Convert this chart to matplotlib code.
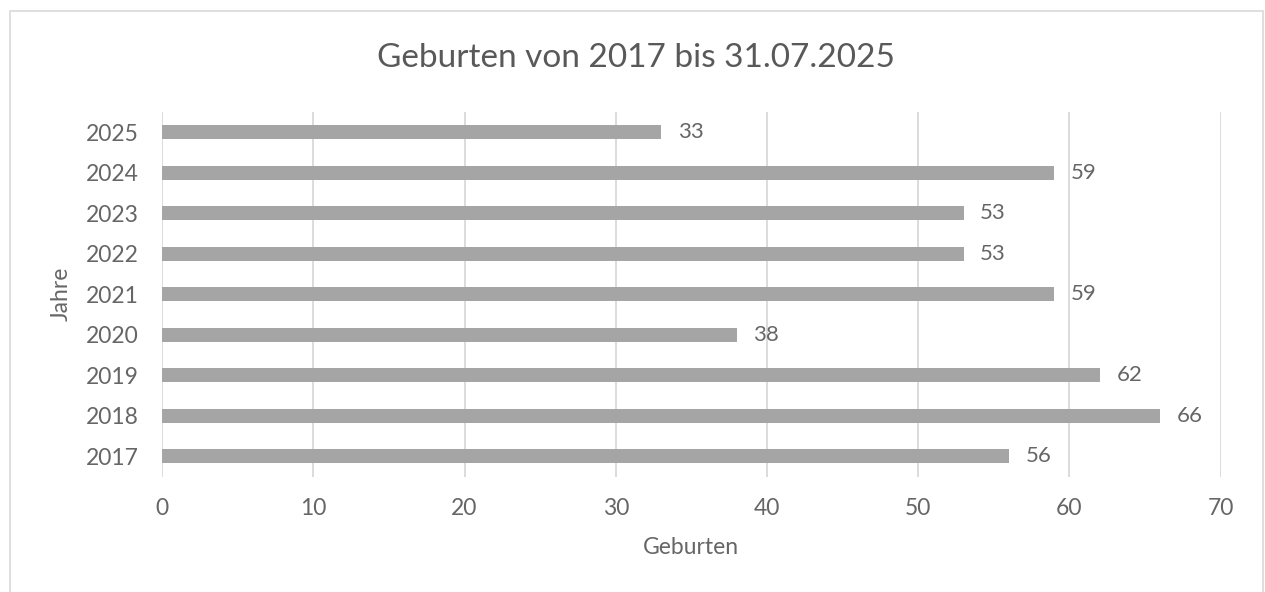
import matplotlib.pyplot as plt
from matplotlib.patches import Rectangle

# ================= Style =================
plt.rcParams['font.family'] = ['Lato', 'DejaVu Sans']
text_col = '#595959'
light_col = '#666666'

# ================= Data =================
jahre = ['2017', '2018', '2019', '2020', '2021', '2022', '2023', '2024', '2025']
geburten = [56, 66, 62, 38, 59, 53, 53, 59, 33]
x_ticks = [0, 10, 20, 30, 40, 50, 60, 70]

fig = plt.figure(figsize=(12.65, 5.92), dpi=100)
ax = fig.add_axes([0.1281, 0.1948, 0.965 - 0.1281, 0.8108 - 0.1948])

pos = range(len(jahre))
ax.barh(pos, geburten, height=0.345, color='#a5a5a5', zorder=3)

# value labels
for p, v in zip(pos, geburten):
    ax.text(v + 1.1, p, str(v), va='center', ha='left', fontsize=16,
            color=light_col)

ax.set_xlim(0, 70)
ax.set_ylim(-0.5, len(jahre) - 0.5)
ax.set_xticks(x_ticks)
ax.set_yticks(list(pos))
ax.set_yticklabels(jahre)
ax.tick_params(axis='both', length=0, labelsize=16.5, labelcolor=light_col)
ax.tick_params(axis='y', pad=17)
ax.tick_params(axis='x', pad=15)

ax.grid(axis='x', color='#d9d9d9', linewidth=1.3, zorder=0)
for s in ax.spines.values():
    s.set_visible(False)

# titles / labels
fig.text(635.5 / 1265, 1 - 58 / 592, 'Geburten von 2017 bis 31.07.2025',
         ha='center', va='center', fontsize=24, color=text_col)
fig.text(691 / 1265, 1 - 548 / 592, 'Geburten', ha='center', va='center',
         fontsize=16.5, color=light_col)
fig.text(61 / 1265, 1 - 294 / 592, 'Jahre', ha='center', va='center',
         rotation=90, fontsize=16.5, color=light_col)

# outer chart frame
fig.patches.append(Rectangle((9.5 / 1265, -0.1), 1253 / 1265, 1.1 - 10.5 / 592,
                             transform=fig.transFigure, fill=False,
                             edgecolor='#d9d9d9', linewidth=1.2))

fig.savefig('out.png', dpi=100)
